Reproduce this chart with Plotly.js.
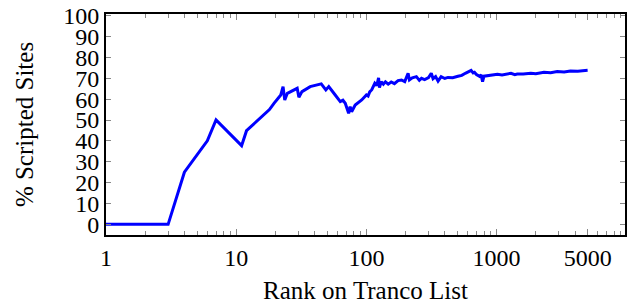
<!DOCTYPE html>
<html>
<head>
<meta charset="utf-8">
<script src="https://cdn.plot.ly/plotly-3.0.1.min.js"></script>
<style>html,body{margin:0;padding:0;background:#fff;}#chart{width:633px;height:306px;}</style>
</head>
<body>
<div id="chart"></div>
<script>
const ranks = [1, 3, 4, 6, 7, 11, 12, 18, 19.5, 22, 22.9, 23.6, 24.7, 29.4, 30.3, 32, 37, 45, 48.8, 51.4, 57.6, 63, 66, 68.8, 73, 75, 77, 82, 92, 100, 103, 106, 110, 116, 120, 124, 126, 130, 135, 140, 147, 155, 164, 175, 186, 197, 209, 214, 225, 242, 255, 265, 280, 300, 315, 325, 340, 355, 375, 400, 423, 460, 505, 540, 580, 610, 637, 660, 676, 700, 740, 760, 780, 800, 850, 900, 1015, 1100, 1200, 1290, 1380, 1440, 1600, 1830, 2000, 2310, 2600, 2920, 3300, 3690, 4200, 5000];
const scripted = [0, 0, 25, 40, 50, 37.7, 44.9, 55, 58, 62, 66, 59.6, 62.8, 65.2, 60.9, 63.6, 66, 67.3, 64.4, 66, 62, 58.8, 59.5, 58, 53.2, 56.4, 54, 57.2, 59.6, 62, 61.5, 63.5, 64.5, 67.6, 66.5, 70.2, 65.5, 68.4, 67.2, 68.3, 67.2, 68.2, 67.4, 68.9, 69.2, 68.4, 72.4, 69.2, 70.2, 70.8, 69, 70, 69.4, 70.3, 72.4, 69.8, 70.8, 68.6, 70.8, 69.9, 70.4, 70.3, 71, 71.4, 72.5, 73.2, 73.8, 72.6, 72.9, 71.8, 70.9, 71.6, 68.4, 71, 71.2, 71.3, 71.9, 71.6, 72.2, 72.4, 71.7, 72.0, 72.1, 72.4, 72.2, 72.9, 72.7, 73.2, 73.0, 73.5, 73.4, 73.8];
const xTickVals = [1, 10, 100, 1000, 5000];
const xTickText = ['1', '10', '100', '1000', '5000'];
const yTickVals = [0, 10, 20, 30, 40, 50, 60, 70, 80, 90, 100];
const xMinor = [2,3,4,5,6,7,8,9,20,30,40,50,60,70,80,90,200,300,400,500,600,700,800,900,2000,3000,4000,6000,7000,8000,9000];

const fam = 'Liberation Serif, Times New Roman, serif';

Plotly.newPlot('chart', [{
  x: ranks, y: scripted, type: 'scatter', mode: 'lines',
  line: {color: '#0000ff', width: 3},
  hoverinfo: 'skip'
}], {
  width: 633, height: 306,
  margin: {l: 106, r: 8, t: 14, b: 71},
  paper_bgcolor: '#fff', plot_bgcolor: '#fff',
  showlegend: false,
  font: {family: fam, size: 24, color: '#000'},
  xaxis: {
    type: 'log', range: [0, 3.986],
    tickmode: 'array', tickvals: xTickVals, ticktext: xTickText,
    ticks: 'inside', ticklen: 6, tickwidth: 1, tickcolor: '#888',
    minor: {tickmode: 'array', tickvals: xMinor, ticks: 'inside', ticklen: 4, tickwidth: 1, tickcolor: '#888'},
    showline: true, linecolor: '#000', linewidth: 2, mirror: 'allticks',
    showgrid: false, zeroline: false,
    tickfont: {family: fam, size: 24, color: '#000'},
    title: {text: 'Rank on Tranco List', font: {family: fam, size: 25, color: '#000'}, standoff: 12},
    automargin: false
  },
  yaxis: {
    range: [-5.1, 100.8],
    tickmode: 'array', tickvals: yTickVals,
    ticks: 'inside', ticklen: 5, tickwidth: 1, tickcolor: '#888',
    showline: true, linecolor: '#000', linewidth: 2, mirror: 'allticks',
    showgrid: false, zeroline: false,
    tickfont: {family: fam, size: 24, color: '#000'},
    title: {text: '% Scripted Sites', font: {family: fam, size: 25, color: '#000'}, standoff: 22},
    automargin: false
  }
}, {displayModeBar: false, staticPlot: true});
</script>
</body>
</html>
